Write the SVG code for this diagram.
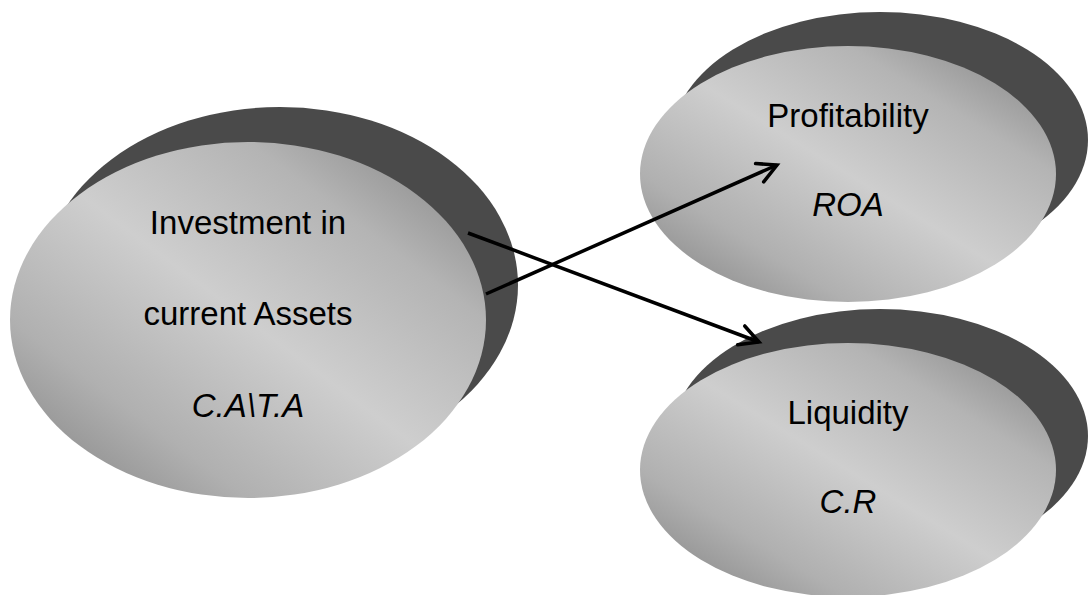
<svg xmlns="http://www.w3.org/2000/svg" width="1088" height="595" viewBox="0 0 1088 595">
  <defs>
    <linearGradient id="face" x1="0" y1="1" x2="1" y2="0">
      <stop offset="0" stop-color="#7c7c7c"/>
      <stop offset="0.25" stop-color="#b0b0b0"/>
      <stop offset="0.5" stop-color="#cecece"/>
      <stop offset="0.75" stop-color="#b4b4b4"/>
      <stop offset="1" stop-color="#7e7e7e"/>
    </linearGradient>
    <marker id="arrow" markerUnits="userSpaceOnUse" markerWidth="30" markerHeight="30" viewBox="-25 -15 30 30" refX="0" refY="0" orient="auto">
      <path d="M-19,-10 L0,0 L-19,10" fill="none" stroke="#000" stroke-width="3.5" stroke-linecap="round" stroke-linejoin="miter"/>
    </marker>
    <style>
      .shadow { fill: #4a4a4a; }
      .face { fill: url(#face); }
      .label { font-family: "Liberation Sans", Arial, sans-serif; font-size: 33px; fill: #000; text-anchor: middle; }
      .it { font-style: italic; }
      .conn { stroke: #000; stroke-width: 3.5; fill: none; marker-end: url(#arrow); }
    </style>
  </defs>

  <rect width="1088" height="595" fill="#ffffff"/>

  <g id="node-investment">
    <ellipse class="shadow" cx="280" cy="285" rx="238" ry="178"/>
    <ellipse class="face" cx="248" cy="320" rx="238" ry="178"/>
    <text class="label" x="248" y="234">Investment in</text>
    <text class="label" x="248" y="325">current Assets</text>
    <text class="label it" x="248" y="417">C.A\T.A</text>
  </g>

  <g id="node-profitability">
    <ellipse class="shadow" cx="880" cy="140" rx="208" ry="128"/>
    <ellipse class="face" cx="848" cy="174" rx="208" ry="128"/>
    <text class="label" x="848" y="127">Profitability</text>
    <text class="label it" x="848" y="216">ROA</text>
  </g>

  <g id="node-liquidity">
    <ellipse class="shadow" cx="880" cy="436" rx="208" ry="127"/>
    <ellipse class="face" cx="848" cy="470" rx="208" ry="127"/>
    <text class="label" x="848" y="424">Liquidity</text>
    <text class="label it" x="848" y="513">C.R</text>
  </g>

  <g id="connectors">
    <line class="conn" x1="486" y1="294" x2="777" y2="165"/>
    <line class="conn" x1="468" y1="233" x2="759" y2="342"/>
  </g>
</svg>
